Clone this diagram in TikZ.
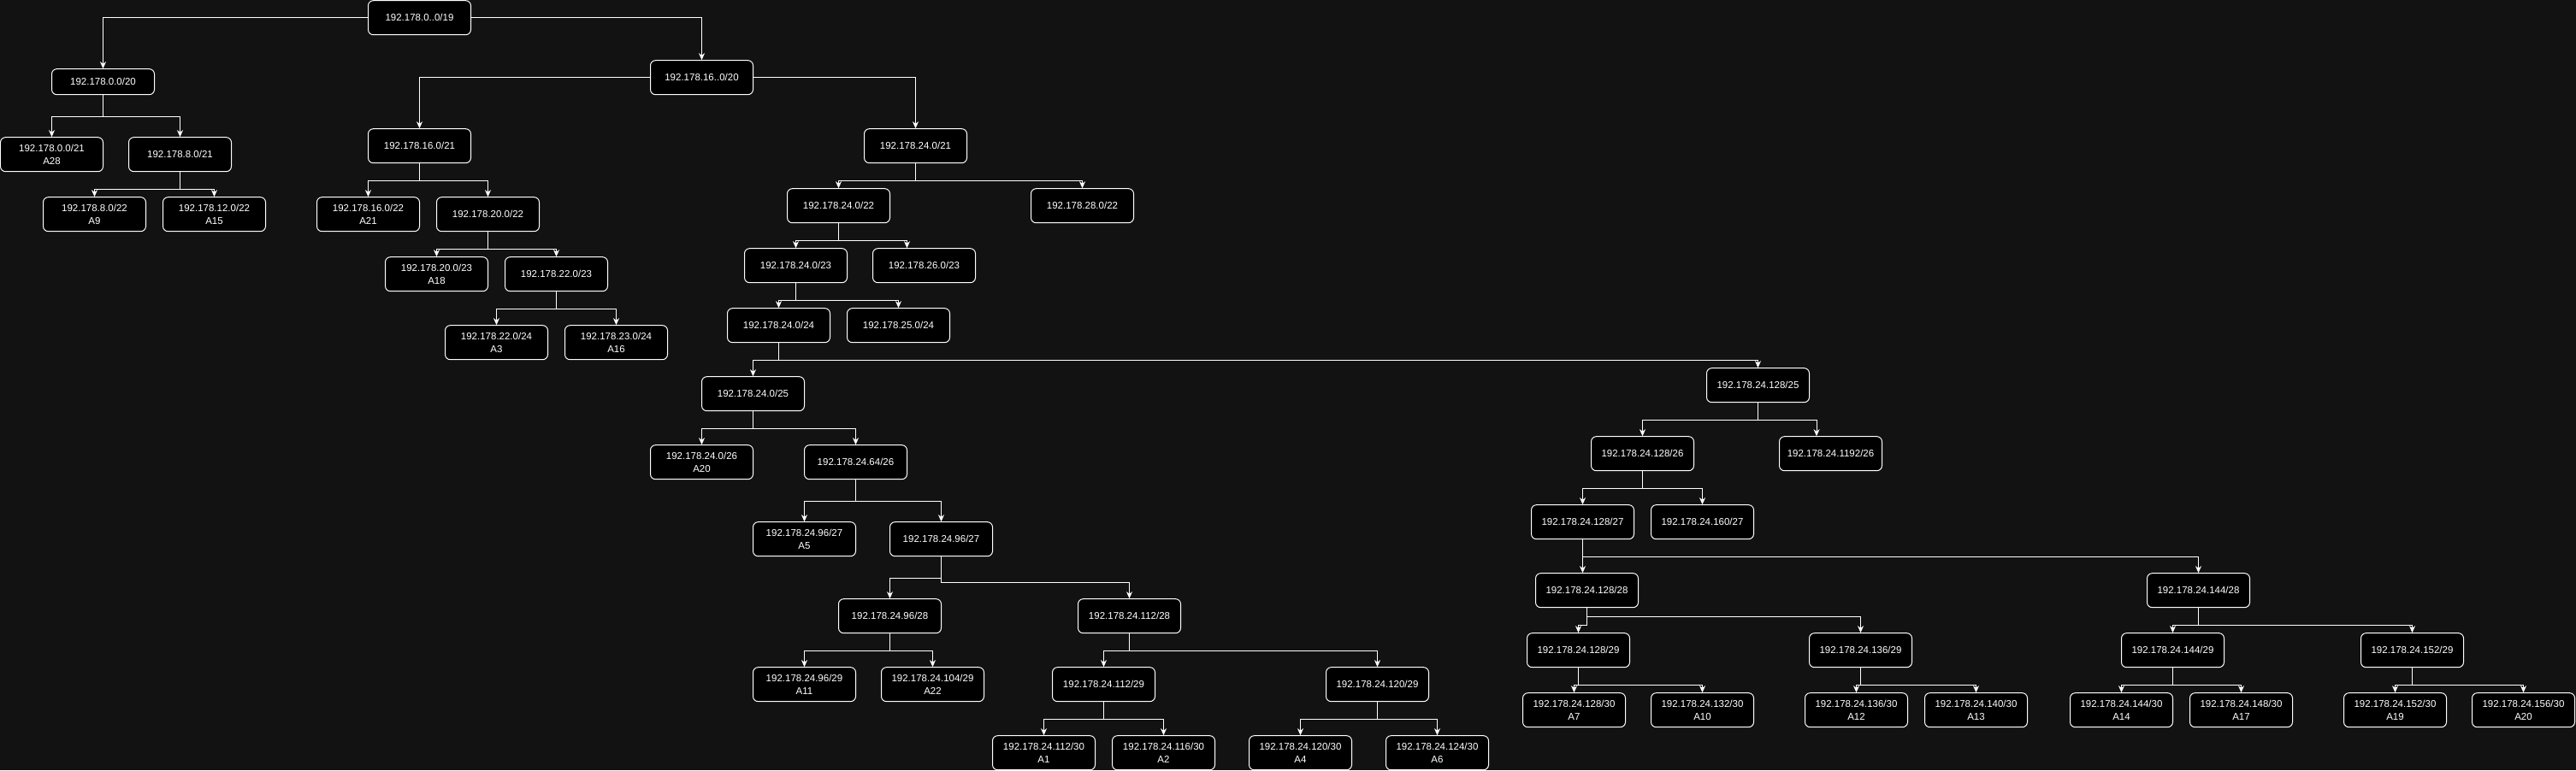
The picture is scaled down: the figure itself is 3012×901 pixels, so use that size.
\documentclass[tikz,border=0pt]{standalone}
\usepackage{fontspec}
\setmainfont{Liberation Sans}
\usetikzlibrary{arrows.meta}

\definecolor{bg}{HTML}{121212}

\begin{document}
\begin{tikzpicture}
  [
  x = 1pt, y = -1pt,
  % block
  block/.style = {rectangle,
    rounded corners = 6pt,
    draw = white, fill = black, line width = 1pt,
    text = white, align = center, inner sep = 1pt,
    font = \fontsize{11.5}{14.5}\selectfont,
    minimum width = 120pt,
    minimum height = 40pt},
  % flat block
  flatblock/.style = {block, minimum height = 30pt},
  % line
  line/.style = {draw = white, line width = 1pt,
    -{Stealth[length = 8pt, width = 7pt, inset = 2.5pt]}},
  ]

  % background
  \fill [bg] (-0.5,-0.7) rectangle (3011.5,900.3);

  % nodes
  \node [block] (n19) at (490,20) {192.178.0..0/19};
  \node [flatblock] (n0s20) at (120,95) {192.178.0.0/20};
  \node [block] (n16s20) at (820,90) {192.178.16..0/20};
  \node [block] (n0s21) at (60,180) {192.178.0.0/21\\A28};
  \node [block] (n8s21) at (210,180) {192.178.8.0/21};
  \node [block] (n8s22) at (110,250) {192.178.8.0/22\\A9};
  \node [block] (n12s22) at (250,250) {192.178.12.0/22\\A15};
  \node [block] (n16s21) at (490,170) {192.178.16.0/21};
  \node [block] (n16s22) at (430,250) {192.178.16.0/22\\A21};
  \node [block] (n20s22) at (570,250) {192.178.20.0/22};
  \node [block] (n20s23) at (510,320) {192.178.20.0/23\\A18};
  \node [block] (n22s23) at (650,320) {192.178.22.0/23};
  \node [block] (n22s24) at (580,400) {192.178.22.0/24\\A3};
  \node [block] (n23s24) at (720,400) {192.178.23.0/24\\A16};
  \node [block] (n24s21) at (1070,170) {192.178.24.0/21};
  \node [block] (n24s22) at (980,240) {192.178.24.0/22};
  \node [block] (n28s22) at (1265,240) {192.178.28.0/22};
  \node [block] (n24s23) at (930,310) {192.178.24.0/23};
  \node [block] (n26s23) at (1080,310) {192.178.26.0/23};
  \node [block] (n24s24) at (910,380) {192.178.24.0/24};
  \node [block] (n25s24) at (1050,380) {192.178.25.0/24};
  \node [block] (n24s25) at (880,460) {192.178.24.0/25};
  \node [block] (n0s26) at (820,540) {192.178.24.0/26\\A20};
  \node [block] (n64s26) at (1000,540) {192.178.24.64/26};
  \node [block] (n96s27a) at (940,630) {192.178.24.96/27\\A5};
  \node [block] (n96s27) at (1100,630) {192.178.24.96/27};
  \node [block] (n96s28) at (1040,720) {192.178.24.96/28};
  \node [block] (n112s28) at (1320,720) {192.178.24.112/28};
  \node [block] (n96s29) at (940,800) {192.178.24.96/29\\A11};
  \node [block] (n104s29) at (1090,800) {192.178.24.104/29\\A22};
  \node [block] (n112s29) at (1290,800) {192.178.24.112/29};
  \node [block] (n120s29) at (1610,800) {192.178.24.120/29};
  \node [block] (n112s30) at (1220,880) {192.178.24.112/30\\A1};
  \node [block] (n116s30) at (1360,880) {192.178.24.116/30\\A2};
  \node [block] (n120s30) at (1520,880) {192.178.24.120/30\\A4};
  \node [block] (n124s30) at (1680,880) {192.178.24.124/30\\A6};
  \node [block] (n128s25) at (2055,450) {192.178.24.128/25};
  \node [block] (n128s26) at (1920,530) {192.178.24.128/26};
  \node [block] (n192s26) at (2140,530) {192.178.24.1192/26};
  \node [block] (n128s27) at (1850,610) {192.178.24.128/27};
  \node [block] (n160s27) at (1990,610) {192.178.24.160/27};
  \node [block] (n128s28) at (1855,690) {192.178.24.128/28};
  \node [block] (n144s28) at (2570,690) {192.178.24.144/28};
  \node [block] (n128s29) at (1845,760) {192.178.24.128/29};
  \node [block] (n136s29) at (2175,760) {192.178.24.136/29};
  \node [block] (n144s29) at (2540,760) {192.178.24.144/29};
  \node [block] (n152s29) at (2820,760) {192.178.24.152/29};
  \node [block] (n128s30) at (1840,830) {192.178.24.128/30\\A7};
  \node [block] (n132s30) at (1990,830) {192.178.24.132/30\\A10};
  \node [block] (n136s30) at (2170,830) {192.178.24.136/30\\A12};
  \node [block] (n140s30) at (2310,830) {192.178.24.140/30\\A13};
  \node [block] (n144s30) at (2480,830) {192.178.24.144/30\\A14};
  \node [block] (n148s30) at (2620,830) {192.178.24.148/30\\A17};
  \node [block] (n152s30) at (2800,830) {192.178.24.152/30\\A19};
  \node [block] (n156s30) at (2950,830) {192.178.24.156/30\\A20};

  % path
  \path [line] (n19.west) -| (n0s20.north);
  \path [line] (n19.east) -| (n16s20.north);
  \path [line] (n0s20.south) -- ++(0,25) -| (n0s21.north);
  \path [line] (n0s20.south) -- ++(0,25) -| (n8s21.north);
  \path [line] (n8s21.south) -- ++(0,20) -| (n8s22.north);
  \path [line] (n8s21.south) -- ++(0,20) -| (n12s22.north);
  \path [line] (n16s20.west) -| (n16s21.north);
  \path [line] (n16s20.east) -| (n24s21.north);
  \path [line] (n16s21.south) -- ++(0,20) -| (n16s22.north);
  \path [line] (n16s21.south) -- ++(0,20) -| (n20s22.north);
  \path [line] (n20s22.south) -- ++(0,20) -| (n20s23.north);
  \path [line] (n20s22.south) -- ++(0,20) -| (n22s23.north);
  \path [line] (n22s23.south) -- ++(0,20) -| (n22s24.north);
  \path [line] (n22s23.south) -- ++(0,20) -| (n23s24.north);
  \path [line] (n24s21.south) -- ++(0,20) -| (n24s22.north);
  \path [line] (n24s21.south) -- ++(0,20) -| (n28s22.north);
  \path [line] (n24s22.south) -- ++(0,20) -| (n24s23.north);
  \path [line] (n24s22.south) -- ++(0,20) -| ([xshift=-20pt]n26s23.north);
  \path [line] (n24s23.south) -- ++(0,20) -| (n24s24.north);
  \path [line] (n24s23.south) -- ++(0,20) -| (n25s24.north);
  \path [line] (n24s24.south) -- ++(0,20) -| (n24s25.north);
  \path [line] (n24s24.south) -- ++(0,20) -| (n128s25.north);
  \path [line] (n24s25.south) -- ++(0,20) -| (n0s26.north);
  \path [line] (n24s25.south) -- ++(0,20) -| (n64s26.north);
  \path [line] (n64s26.south) -- ++(0,25) -| (n96s27a.north);
  \path [line] (n64s26.south) -- ++(0,25) -| (n96s27.north);
  \path [line] (n96s27.south) -- ++(0,25) -| (n96s28.north);
  \path [line] (n96s27.south) -- ++(0,30) -| (n112s28.north);
  \path [line] (n96s28.south) -- ++(0,20) -| (n96s29.north);
  \path [line] (n96s28.south) -- ++(0,20) -| (n104s29.north);
  \path [line] (n112s28.south) -- ++(0,20) -| (n112s29.north);
  \path [line] (n112s28.south) -- ++(0,20) -| (n120s29.north);
  \path [line] (n112s29.south) -- ++(0,20) -| (n112s30.north);
  \path [line] (n112s29.south) -- ++(0,20) -| (n116s30.north);
  \path [line] (n120s29.south) -- ++(0,20) -| (n120s30.north);
  \path [line] (n120s29.south) -- ++(0,20) -| (n124s30.north);
  \path [line] (n128s25.south) -- ++(0,20) -| (n128s26.north);
  \path [line] (n128s25.south) -- ++(0,20) -| ([xshift=-16.5pt]n192s26.north);
  \path [line] (n128s26.south) -- ++(0,20) -| (n128s27.north);
  \path [line] (n128s26.south) -- ++(0,20) -| (n160s27.north);
  \path [line] (n128s27.south) -- ++(0,20) -| ([xshift=-5pt]n128s28.north);
  \path [line] (n128s27.south) -- ++(0,20) -| (n144s28.north);
  \path [line] (n128s28.south) -- ++(0,20) -| (n128s29.north);
  \path [line] (n128s28.south) -- ++(0,10) -| (n136s29.north);
  \path [line] (n128s29.south) -- ++(0,20) -| (n128s30.north);
  \path [line] (n128s29.south) -- ++(0,20) -| (n132s30.north);
  \path [line] (n136s29.south) -- ++(0,20) -| (n136s30.north);
  \path [line] (n136s29.south) -- ++(0,20) -| (n140s30.north);
  \path [line] (n144s28.south) -- ++(0,20) -| (n144s29.north);
  \path [line] (n144s28.south) -- ++(0,20) -| (n152s29.north);
  \path [line] (n144s29.south) -- ++(0,20) -| (n144s30.north);
  \path [line] (n144s29.south) -- ++(0,20) -| (n148s30.north);
  \path [line] (n152s29.south) -- ++(0,20) -| (n152s30.north);
  \path [line] (n152s29.south) -- ++(0,20) -| (n156s30.north);

\end{tikzpicture}
\end{document}
